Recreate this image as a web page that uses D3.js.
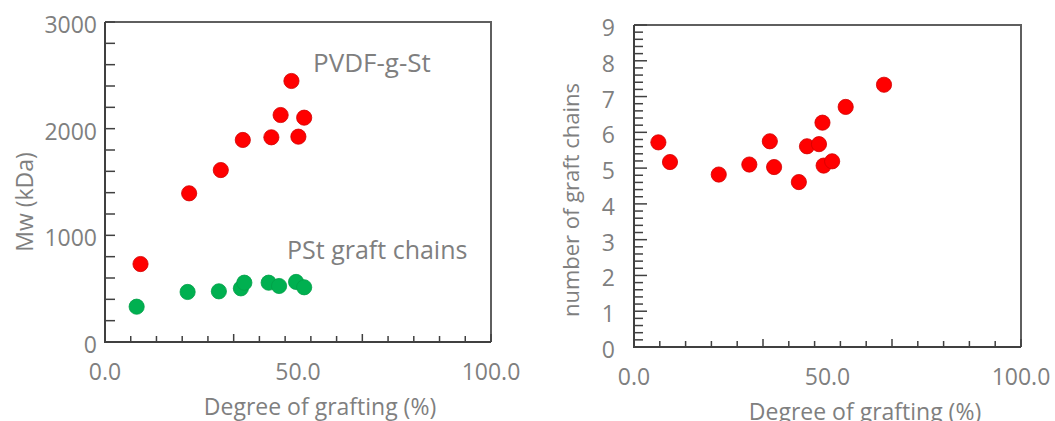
<!DOCTYPE html>
<html lang="en">
<head>
<meta charset="UTF-8">
<title>Grafting charts</title>
<script src="https://d3js.org/d3.v7.min.js"></script>
<style>
    body { margin: 0; background: #fff; }
    text { font-family: "Open Sans", sans-serif; fill: #7f7f7f; }
</style>
</head>
<body>
<svg id="chart"></svg>
<script>
    const W = 1055, H = 421;

    // left panel: Mw vs degree of grafting
    const pvdfX = [9.2, 21.8, 30.0, 35.7, 43.1, 45.5, 48.3, 50.1, 51.6];
    const pvdfMw = [731, 1394, 1612, 1894, 1919, 2128, 2447, 1925, 2103];
    const pstX = [8.2, 21.4, 29.5, 35.2, 36.1, 42.4, 45.1, 49.5, 51.6];
    const pstMw = [331, 469, 475, 503, 556, 556, 525, 563, 513];

    // right panel: number of graft chains
    const chainX = [6.3, 9.3, 21.9, 29.8, 35.1, 36.2, 42.6, 44.7, 47.8, 48.7, 49.0, 51.2, 54.7, 64.6];
    const chainN = [5.72, 5.17, 4.82, 5.10, 5.75, 5.03, 4.61, 5.61, 5.67, 6.27, 5.07, 5.19, 6.71, 7.33];

    const xTickLabels = [0, 50, 100];
    const mwTickLabels = [0, 1000, 2000, 3000];
    const chainTickLabels = [0, 1, 2, 3, 4, 5, 6, 7, 8, 9];

    const svg = d3.select("#chart").attr("width", W).attr("height", H);

    function panel(o) {
        const x = d3.scaleLinear().domain([0, 100]).range([o.left, o.right]);
        const y = d3.scaleLinear().domain([0, o.yMax]).range([o.bottom, o.top]);
        const g = svg.append("g");

        // frame (top / right)
        g.append("path")
            .attr("d", `M${o.left},${o.top}H${o.right}V${o.bottom}`)
            .attr("fill", "none").attr("stroke", "#5f5f5f").attr("stroke-width", 2);

        // x minor ticks (15 divisions), pointing up
        const xt = d3.range(0, 16).map(i => i * 100 / 15);
        g.selectAll(".xt").data(xt).join("line")
            .attr("x1", d => x(d)).attr("x2", d => x(d))
            .attr("y1", o.bottom).attr("y2", (d, i) => o.bottom - (i % 5 === 0 ? 8 : 6))
            .attr("stroke", "#404040").attr("stroke-width", 1.5);

        // y ticks pointing right
        const yt = d3.range(0, o.yMax + 1e-9, o.yStep);
        g.selectAll(".yt").data(yt).join("line")
            .attr("x1", o.left).attr("x2", d => o.left + o.tickLen(d))
            .attr("y1", d => y(d)).attr("y2", d => y(d))
            .attr("stroke", "#404040").attr("stroke-width", 1.5);

        // axes
        g.append("path")
            .attr("d", `M${o.left},${o.top}V${o.bottom}H${o.right}`)
            .attr("fill", "none").attr("stroke", "#404040").attr("stroke-width", 2);

        // tick labels
        g.selectAll(".xl").data(xTickLabels).join("text")
            .attr("x", d => x(d)).attr("y", o.bottom + 38)
            .attr("text-anchor", "middle").attr("font-size", 23)
            .text(d => d.toFixed(1));
        g.selectAll(".yl").data(o.yLabels).join("text")
            .attr("x", o.left - o.ylDx).attr("y", d => y(d) + 11)
            .attr("text-anchor", "end").attr("font-size", 23)
            .text(d => d);

        // axis titles
        g.append("text").attr("x", o.xtX).attr("y", o.xtY)
            .attr("text-anchor", "middle").attr("font-size", 23)
            .text("Degree of grafting (%)");
        g.append("text")
            .attr("transform", `translate(${o.ytX},${o.ytY})rotate(-90)`)
            .attr("text-anchor", "middle").attr("font-size", o.ytSize)
            .text(o.yTitle);

        return { x, y, g };
    }

    const L = panel({
        left: 105, right: 491, top: 22, bottom: 342, yMax: 3000, yStep: 200,
        tickLen: () => 10, yLabels: mwTickLabels, ylDx: 8, yTitle: "Mw (kDa)",
        ytX: 33, ytY: 202, ytSize: 23, xtX: 320, xtY: 415
    });
    const R = panel({
        left: 634, right: 1021, top: 25, bottom: 347, yMax: 9, yStep: 0.2,
        tickLen: d => Math.abs(d - Math.round(d)) < 1e-6 ? 13 : 9, yLabels: chainTickLabels, ylDx: 19,
        yTitle: "number of graft chains", ytX: 579, ytY: 200, ytSize: 22, xtX: 865, xtY: 420
    });

    function dots(p, xs, ys, fill, stroke) {
        p.g.selectAll(null).data(xs).join("circle")
            .attr("cx", d => p.x(d)).attr("cy", (d, i) => p.y(ys[i]))
            .attr("r", 7.6).attr("fill", fill).attr("stroke", stroke).attr("stroke-width", 0.8);
    }
    dots(L, pvdfX, pvdfMw, "#ff0000", "#d00000");
    dots(L, pstX, pstMw, "#00b050", "#00a048");
    dots(R, chainX, chainN, "#ff0000", "#d00000");

    // series annotations
    L.g.append("text").attr("x", 313).attr("y", 72).attr("font-size", 26).text("PVDF-g-St");
    L.g.append("text").attr("x", 287).attr("y", 259).attr("font-size", 25).text("PSt graft chains");
</script>
</body>
</html>
